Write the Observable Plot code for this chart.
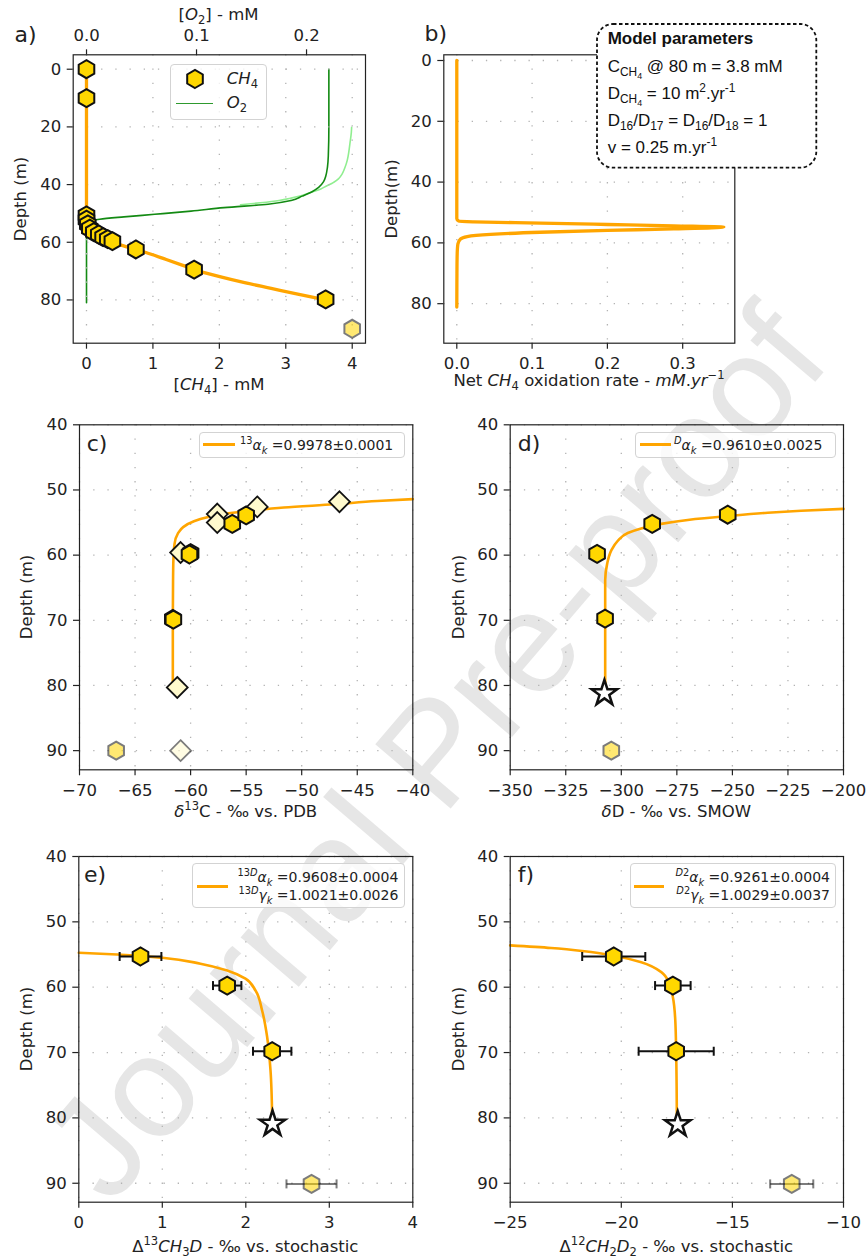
<!DOCTYPE html>
<html>
<head>
<meta charset="utf-8">
<script src="https://cdn.jsdelivr.net/npm/d3@7"></script>
<script src="https://cdn.jsdelivr.net/npm/@observablehq/plot@0.6"></script>
<style>
  html, body { margin: 0; padding: 0; background: #fff; }
  #root { position: relative; width: 868px; height: 1260px; overflow: hidden; font-family: "DejaVu Sans", sans-serif; color: #222; }
  .lbl { position: absolute; font-size: 16.5px; line-height: 1; white-space: nowrap; transform: translate(-50%, -50%); z-index: 2; }
  .vlbl { position: absolute; font-size: 16.5px; line-height: 1; white-space: nowrap; transform: translate(-50%, -50%) rotate(-90deg); z-index: 2; }
  .plab { position: absolute; font-size: 22px; line-height: 1; transform: translate(-50%, -50%); z-index: 2; }
  .leg { position: absolute; box-sizing: border-box; border: 1px solid #d3d3d3; border-radius: 4px; background: rgba(255,255,255,0.8); z-index: 2; }
  .legline { position: absolute; height: 2.6px; background: #FFA500; z-index: 2; }
  .legtxt { position: absolute; font-size: 14px; line-height: 1; white-space: nowrap; transform: translateY(-50%); z-index: 2; }
  .legtxtr { position: absolute; font-size: 14px; line-height: 1; white-space: nowrap; transform: translate(-100%, -50%); z-index: 2; }
  sub, sup { font-size: 70%; line-height: 0; }
  .mp { position: absolute; font-family: "Liberation Sans", Arial, sans-serif; font-size: 17px; line-height: 1; white-space: nowrap; transform: translateY(-50%); z-index: 4; color: #111; }
  .mp sub sub { font-size: 75%; }
</style>
</head>
<body>
<div id="root"></div>
<script>
// ================= DATA =================
// Panel a
const aDepthTicks = [0, 20, 40, 60, 80];
const aCH4Ticks = [0, 1, 2, 3, 4];
const aO2Ticks = [0, 0.1, 0.2];
const aHexDepth = [0, 10, 50.7, 52.2, 53.8, 55.3, 56.5, 57.3, 58.2, 58.9, 59.6, 62.5, 69.5, 79.8];
const aHexCH4   = [0, 0, 0, 0, 0.02, 0.05, 0.11, 0.185, 0.25, 0.32, 0.39, 0.744, 1.62, 3.6];
const aFadedDepth = [90];
const aFadedCH4 = [4.0];
const aModelDepth = [0, 50, 52, 53, 54, 55, 56, 57, 58, 59, 60, 61, 62.6, 64, 66, 68, 70, 72, 74, 76, 78, 80];
const aModelCH4   = [0, 0, 0.003, 0.01, 0.025, 0.05, 0.09, 0.15, 0.22, 0.3, 0.4, 0.52, 0.75, 0.95, 1.2, 1.45, 1.7, 2.02, 2.38, 2.78, 3.18, 3.6];
const aO2ModelDepth = [0, 20, 30, 34, 37, 39, 41, 42.5, 44, 45.5, 46.8, 48, 49.2, 50.3, 51.2, 52, 52.6, 53, 81];
const aO2ModelConc  = [0.2203, 0.2203, 0.2198, 0.219, 0.2175, 0.2155, 0.211, 0.205, 0.196, 0.186, 0.165, 0.125, 0.095, 0.062, 0.034, 0.012, 0.003, 0, 0];
const aO2MeasDepth = [20.1, 22, 25.9, 28.5, 31.6, 34, 36.3, 38, 39.2, 39.9, 40.3, 41.5, 42.7, 43.9, 44.7, 45.5, 46.3, 47];
const aO2MeasConc  = [0.241, 0.2407, 0.2394, 0.2385, 0.237, 0.235, 0.2324, 0.229, 0.2248, 0.2215, 0.219, 0.213, 0.204, 0.195, 0.186, 0.175, 0.158, 0.14];

// Panel b
const bDepthTicks = [0, 20, 40, 60, 80];
const bRateTicks = [0, 0.1, 0.2, 0.3];
const bDepth = [0, 52.07, 52.85, 53.07, 53.5, 53.95, 54.4, 54.8, 55.4, 55.9, 56.5, 57.2, 57.9, 58.7, 60.3, 62, 65, 70, 81.1];
const bRate  = [0, 0, 0.0027, 0.0226, 0.111, 0.2, 0.288, 0.3546, 0.288, 0.2, 0.111, 0.0448, 0.0138, 0.0049, 0.0015, 0.0008, 0.0004, 0.0002, 0];

// Panels c-f
const depthTicks = [40, 50, 60, 70, 80, 90];
const cTicks = [-70, -65, -60, -55, -50, -45, -40];
const cModelDepth = [80, 70, 64, 60.8, 58.3, 56.7, 55.7, 54.8, 54.2, 53.6, 53.2, 52.7, 52.2, 51.7, 51.4];
const cModelD13C  = [-61.6, -61.6, -61.58, -61.55, -61.45, -61.15, -60.67, -59.7, -58.5, -56.7, -54.6, -51.6, -47.1, -43.2, -40];
const cDiaDepth = [51.8, 52.6, 53.7, 55.0, 59.6, 80.3];
const cDiaD13C  = [-46.6, -54.0, -57.6, -57.6, -60.9, -61.2];
const cHexDepth = [59.7, 59.9, 69.8, 69.9, 55.2, 53.9];
const cHexD13C  = [-60.0, -60.1, -61.6, -61.55, -56.25, -55.0];
const cFadedHexDepth = [90], cFadedHexD13C = [-66.7];
const cFadedDiaDepth = [90], cFadedDiaD13C = [-60.9];

const dTicks = [-350, -325, -300, -275, -250, -225, -200];
const dModelDepth = [80, 63.8, 61.3, 59.3, 57.8, 56.6, 55.9, 55.2, 54.6, 54.0, 53.5, 53.2, 52.9];
const dModelDD    = [-307.25, -307.25, -306.35, -304.55, -301.6, -297.1, -291.05, -282.05, -270.1, -252.1, -234.1, -219.05, -200];
const dHexDepth = [59.8, 55.2, 53.8, 69.75];
const dHexDD    = [-310.9, -286.1, -252.1, -307.3];
const dStarDepth = [81.2], dStarDD = [-307.6];
const dFadedDepth = [90], dFadedDD = [-304.5];

const eTicks = [0, 1, 2, 3, 4];
const eModelDepth = [80, 72.75, 67.65, 63.6, 60.5, 58.7, 57.45, 56.4, 55.5, 55.0, 54.74];
const eModelVal   = [2.316, 2.296, 2.256, 2.196, 2.116, 1.996, 1.777, 1.457, 1.0, 0.459, 0];
const eHexDepth = [55.3, 59.75, 69.8];
const eHexVal   = [0.739, 1.777, 2.316];
const eHexErr   = [0.25, 0.17, 0.23];
const eStarDepth = [80.9], eStarVal = [2.32];
const eFadedDepth = [90.1], eFadedVal = [2.787], eFadedErr = [0.3];

const fTicks = [-25, -20, -15, -10];
const fModelDepth = [80, 70.2, 65.1, 61.5, 59.5, 57.7, 56.2, 55.2, 54.5, 54.0, 53.6];
const fModelVal   = [-17.5, -17.53, -17.57, -17.68, -17.83, -18.2, -19.1, -20.31, -21.66, -23.16, -25];
const fHexDepth = [55.3, 59.75, 69.8];
const fHexVal   = [-20.34, -17.68, -17.53];
const fHexErr   = [1.42, 0.8, 1.69];
const fStarDepth = [81.0], fStarVal = [-17.46];
const fFadedDepth = [90.1], fFadedVal = [-12.33], fFadedErr = [0.97];

// ================= HELPERS =================
const root = document.getElementById("root");
const ORANGE = "#FFA500", GOLD = "#FFD700", CHIFFON = "#FFFACD";
const pts = (xs, ys, es) => xs.map((x, i) => ({x, y: ys[i], e: es ? es[i] : 0}));
const fmtInt = d3.format("d"), fmt1 = d3.format(".1f");
const gridStyle = {stroke: "#b3b3b3", strokeOpacity: 1, strokeWidth: 1.3, strokeDasharray: "1.3,12.9"};
const baseStyle = {background: "transparent", overflow: "visible", fontFamily: "DejaVu Sans", fontSize: "16.5px", color: "#222"};
const capSymbol = {draw(ctx, size) { const r = Math.sqrt(size / Math.PI); ctx.moveTo(0, -r); ctx.lineTo(0, r); }};

function place(el, left, top, z) {
  el.style.position = "absolute"; el.style.left = left + "px"; el.style.top = top + "px"; el.style.zIndex = z;
  root.appendChild(el);
}

function makePlot({w, h, ml, mr, mt, mb, xDomain, yDomain, xTicks, yTicks, xFmt, yFmt, marks, xAnchor = "bottom", showY = true, grid = true, frame = true}) {
  const m = [];
  if (grid) m.push(Plot.gridX(xTicks, gridStyle), Plot.gridY(yTicks, gridStyle));
  m.push(...marks);
  if (frame) m.push(Plot.frame({stroke: "#222", strokeWidth: 1.2}));
  m.push(Plot.axisX(xTicks, {anchor: xAnchor, tickSize: 6, tickPadding: 8, tickFormat: xFmt, label: null, color: "#222", strokeWidth: 1.2}));
  if (showY) m.push(Plot.axisY(yTicks, {anchor: "left", tickSize: 6, tickPadding: 6, tickFormat: yFmt, label: null, color: "#222", strokeWidth: 1.2}));
  return Plot.plot({
    width: w, height: h, marginLeft: ml, marginRight: mr, marginTop: mt, marginBottom: mb,
    x: {domain: xDomain},
    y: showY ? {domain: yDomain, reverse: true} : {domain: yDomain, reverse: true, axis: null},
    style: baseStyle, marks: m
  });
}

const hexDots = (data, extra = {}) => Plot.dot(data, {x: "x", y: "y", symbol: "hexagon", r: 7.8, fill: GOLD, stroke: "#111", strokeWidth: 2, ...extra});
const diaDots = (data, extra = {}) => Plot.dot(data, {x: "x", y: "y", symbol: "diamond2", r: 9.4, fill: CHIFFON, stroke: "#111", strokeWidth: 1.8, ...extra});
const starDots = (data) => Plot.dot(data, {x: "x", y: "y", symbol: "star", r: 8, fill: "white", stroke: "#111", strokeWidth: 2.5, strokeLinejoin: "miter"});
const modelLine = (data, sw = 2.6) => Plot.line(data, {x: "x", y: "y", stroke: ORANGE, strokeWidth: sw, curve: "monotone-y"});
const errBars = (data, color = "#111", extra = {}) => [
  Plot.link(data, {x1: d => d.x - d.e, x2: d => d.x + d.e, y1: "y", y2: "y", stroke: color, strokeWidth: 2, ...extra}),
  Plot.dot(data, {x: d => d.x - d.e, y: "y", symbol: capSymbol, r: 4.5, fill: "none", stroke: color, strokeWidth: 2, ...extra}),
  Plot.dot(data, {x: d => d.x + d.e, y: "y", symbol: capSymbol, r: 4.5, fill: "none", stroke: color, strokeWidth: 2, ...extra})
];

// ================= WATERMARK =================
root.insertAdjacentHTML("beforeend",
  `<svg width="868" height="1260" style="position:absolute;left:0;top:0;z-index:0">
     <text x="434" y="752" transform="rotate(-49.5 434 752)" text-anchor="middle" dominant-baseline="central"
       font-family="Liberation Sans, Arial, sans-serif" font-size="144" fill="#e6e6e6">Journal Pre-proof</text>
   </svg>`);

// ================= PANEL a =================
const aW = 434, aH = 400, aMl = 72.7, aMr = 69, aMt = 54.3, aMb = 57.3;
const aO2 = makePlot({
  w: aW, h: aH, ml: aMl, mr: aMr, mt: aMt, mb: aMb,
  xDomain: [-0.0121, 0.2536], yDomain: [-5, 95], xTicks: aO2Ticks, yTicks: aDepthTicks, xFmt: fmt1,
  xAnchor: "top", showY: false, grid: false, frame: false,
  marks: [
    Plot.line(pts(aO2MeasConc, aO2MeasDepth), {x: "x", y: "y", stroke: "#90EE90", strokeWidth: 1.6, curve: "monotone-y"}),
    Plot.line(pts(aO2ModelConc, aO2ModelDepth), {x: "x", y: "y", stroke: "#138a13", strokeWidth: 1.6, curve: "monotone-y"})
  ]
});
place(aO2, 0, 0, 1);
const aCH4 = makePlot({
  w: aW, h: aH, ml: aMl, mr: aMr, mt: aMt, mb: aMb,
  xDomain: [-0.2, 4.2], yDomain: [-5, 95], xTicks: aCH4Ticks, yTicks: aDepthTicks, xFmt: fmtInt, yFmt: fmtInt,
  marks: [
    modelLine(pts(aModelCH4, aModelDepth), 3.3),
    hexDots(pts(aHexCH4, aHexDepth)),
    hexDots(pts(aFadedCH4, aFadedDepth), {opacity: 0.55})
  ]
});
place(aCH4, 0, 0, 1);

// ================= PANEL b =================
const bPlot = makePlot({
  w: 488, h: 400, ml: 63.3, mr: 133.7, mt: 54.3, mb: 57.3,
  xDomain: [-0.01726, 0.3692], yDomain: [-1.875, 93.0], xTicks: bRateTicks, yTicks: bDepthTicks, xFmt: fmt1, yFmt: fmtInt,
  marks: [ modelLine(pts(bRate, bDepth), 3.3) ]
});
place(bPlot, 380, 0, 1);

// ================= PANEL c =================
const cPlot = makePlot({
  w: 434, h: 420, ml: 79, mr: 21.7, mt: 24.3, mb: 50.7,
  xDomain: [-70, -40], yDomain: [40, 92.94], xTicks: cTicks, yTicks: depthTicks, xFmt: fmtInt, yFmt: fmtInt,
  marks: [
    modelLine(pts(cModelD13C, cModelDepth)),
    diaDots(pts(cDiaD13C, cDiaDepth)),
    hexDots(pts(cHexD13C, cHexDepth)),
    hexDots(pts(cFadedHexD13C, cFadedHexDepth), {opacity: 0.55}),
    diaDots(pts(cFadedDiaD13C, cFadedDiaDepth), {opacity: 0.55})
  ]
});
place(cPlot, 0, 400, 1);

// ================= PANEL d =================
const dPlot = makePlot({
  w: 434, h: 420, ml: 75.7, mr: 25, mt: 24.3, mb: 50.7,
  xDomain: [-350, -200], yDomain: [40, 92.94], xTicks: dTicks, yTicks: depthTicks, xFmt: fmtInt, yFmt: fmtInt,
  marks: [
    modelLine(pts(dModelDD, dModelDepth)),
    hexDots(pts(dHexDD, dHexDepth)),
    starDots(pts(dStarDD, dStarDepth)),
    hexDots(pts(dFadedDD, dFadedDepth), {opacity: 0.55})
  ]
});
place(dPlot, 434, 400, 1);

// ================= PANEL e =================
const eData = pts(eHexVal, eHexDepth, eHexErr);
const eFaded = pts(eFadedVal, eFadedDepth, eFadedErr);
const ePlot = makePlot({
  w: 434, h: 440, ml: 78.3, mr: 21.7, mt: 36, mb: 58.3,
  xDomain: [0, 4], yDomain: [40, 92.9], xTicks: eTicks, yTicks: depthTicks, xFmt: fmtInt, yFmt: fmtInt,
  marks: [
    modelLine(pts(eModelVal, eModelDepth)),
    ...errBars(eData),
    hexDots(eData),
    starDots(pts(eStarVal, eStarDepth)),
    ...errBars(eFaded, "#111", {opacity: 0.55}),
    hexDots(eFaded, {opacity: 0.55})
  ]
});
place(ePlot, 0, 820, 1);

// ================= PANEL f =================
const fData = pts(fHexVal, fHexDepth, fHexErr);
const fFaded = pts(fFadedVal, fFadedDepth, fFadedErr);
const fPlot = makePlot({
  w: 434, h: 440, ml: 75.7, mr: 25, mt: 36, mb: 58.3,
  xDomain: [-25, -10], yDomain: [40, 92.9], xTicks: fTicks, yTicks: depthTicks, xFmt: fmtInt, yFmt: fmtInt,
  marks: [
    modelLine(pts(fModelVal, fModelDepth)),
    ...errBars(fData),
    hexDots(fData),
    starDots(pts(fStarVal, fStarDepth)),
    ...errBars(fFaded, "#111", {opacity: 0.55}),
    hexDots(fFaded, {opacity: 0.55})
  ]
});
place(fPlot, 434, 820, 1);

// ================= TEXT OVERLAYS =================
root.insertAdjacentHTML("beforeend", `
  <div class="plab" style="left:25.5px;top:35px">a)</div>
  <div class="plab" style="left:435.8px;top:34px">b)</div>
  <div class="plab" style="left:97px;top:443.5px">c)</div>
  <div class="plab" style="left:529px;top:443.5px">d)</div>
  <div class="plab" style="left:95px;top:875px">e)</div>
  <div class="plab" style="left:526px;top:875px">f)</div>

  <div class="lbl" style="left:218.5px;top:15px">[<i>O</i><sub>2</sub>] - mM</div>
  <div class="lbl" style="left:219px;top:385px">[<i>CH</i><sub>4</sub>] - mM</div>
  <div class="vlbl" style="left:21px;top:198.5px">Depth (m)</div>
  <div class="vlbl" style="left:392px;top:198.5px">Depth(m)</div>
  <div class="lbl" style="left:589px;top:381px">Net <i>CH</i><sub>4</sub> oxidation rate - <i>mM</i>.<i>yr</i><sup>−1</sup></div>

  <div class="vlbl" style="left:26.7px;top:597px">Depth (m)</div>
  <div class="vlbl" style="left:459px;top:597px">Depth (m)</div>
  <div class="lbl" style="left:245.7px;top:812px"><i>δ</i><sup>13</sup>C - ‰ vs. PDB</div>
  <div class="lbl" style="left:676.3px;top:812px"><i>δ</i>D - ‰ vs. SMOW</div>

  <div class="vlbl" style="left:26.7px;top:1029px">Depth (m)</div>
  <div class="vlbl" style="left:459px;top:1029px">Depth (m)</div>
  <div class="lbl" style="left:245.3px;top:1247px">Δ<sup>13</sup><i>CH</i><sub>3</sub><i>D</i> - ‰ vs. stochastic</div>
  <div class="lbl" style="left:676.3px;top:1247px">Δ<sup>12</sup><i>CH</i><sub>2</sub><i>D</i><sub>2</sub> - ‰ vs. stochastic</div>

  <!-- legend a -->
  <div class="leg" style="left:170px;top:64px;width:97px;height:56px"></div>
  <svg width="24" height="24" style="position:absolute;left:183px;top:67px;z-index:2;overflow:visible">
    <polygon transform="translate(12,12)" points="0,9 7.8,4.5 7.8,-4.5 0,-9 -7.8,-4.5 -7.8,4.5" fill="${GOLD}" stroke="#111" stroke-width="2"/>
  </svg>
  <div class="legtxt" style="left:226.7px;top:79px;font-size:16.5px"><i>CH</i><sub>4</sub></div>
  <div class="legline" style="left:176px;top:102.5px;width:37px;height:1.6px;background:#2e9a2e"></div>
  <div class="legtxt" style="left:226.7px;top:103.3px;font-size:16.5px"><i>O</i><sub>2</sub></div>

  <!-- legend c -->
  <div class="leg" style="left:199.3px;top:432.3px;width:205.7px;height:26px"></div>
  <div class="legline" style="left:203px;top:443px;width:32px"></div>
  <div class="legtxt" style="left:240px;top:445px"><sup>13</sup><i>α</i><sub><i>k</i></sub> =0.9978±0.0001</div>

  <!-- legend d -->
  <div class="leg" style="left:635px;top:432.3px;width:200.7px;height:26px"></div>
  <div class="legline" style="left:640px;top:443px;width:31px"></div>
  <div class="legtxt" style="left:674px;top:445px"><sup><i>D</i></sup><i>α</i><sub><i>k</i></sub> =0.9610±0.0025</div>

  <!-- legend e -->
  <div class="leg" style="left:192.3px;top:863.3px;width:212.7px;height:45px"></div>
  <div class="legline" style="left:196.7px;top:885.4px;width:31px"></div>
  <div class="legtxtr" style="left:398.3px;top:876.7px"><sup>13<i>D</i></sup><i>α</i><sub><i>k</i></sub> =0.9608±0.0004</div>
  <div class="legtxtr" style="left:398.3px;top:895px"><sup>13<i>D</i></sup><i>γ</i><sub><i>k</i></sub> =1.0021±0.0026</div>

  <!-- legend f -->
  <div class="leg" style="left:629.7px;top:863.3px;width:206px;height:45px"></div>
  <div class="legline" style="left:634px;top:885.4px;width:30px"></div>
  <div class="legtxtr" style="left:830px;top:876.7px"><sup><i>D</i>2</sup><i>α</i><sub><i>k</i></sub> =0.9261±0.0004</div>
  <div class="legtxtr" style="left:830px;top:895px"><sup><i>D</i>2</sup><i>γ</i><sub><i>k</i></sub> =1.0029±0.0037</div>

  <!-- model parameters box -->
  <svg width="222" height="146" style="position:absolute;left:595.7px;top:23px;z-index:3">
    <rect x="1" y="1" width="219.3" height="143.7" rx="16" ry="16" fill="#fff" stroke="#111" stroke-width="1.8" stroke-dasharray="3.5,2.5"/>
  </svg>
  <div class="mp" style="left:607.7px;top:37.7px;font-weight:bold">Model parameters</div>
  <div class="mp" style="left:607.7px;top:66.7px">C<sub>CH<sub>4</sub></sub> @ 80 m = 3.8 mM</div>
  <div class="mp" style="left:607.7px;top:94px">D<sub>CH<sub>4</sub></sub> = 10 m<sup>2</sup>.yr<sup>-1</sup></div>
  <div class="mp" style="left:607.7px;top:120px">D<sub>16</sub>/D<sub>17</sub> = D<sub>16</sub>/D<sub>18</sub> = 1</div>
  <div class="mp" style="left:607.7px;top:146.7px">v = 0.25 m.yr<sup>-1</sup></div>
`);
</script>
</body>
</html>
